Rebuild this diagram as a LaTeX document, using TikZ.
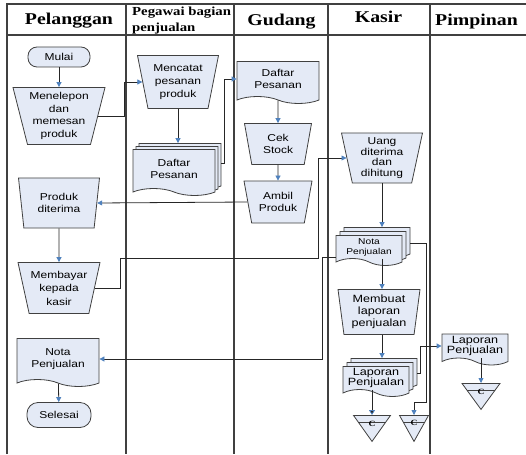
\documentclass[tikz,border=0pt]{standalone}
\usepackage{fontspec}
\setmainfont{Liberation Serif}[FakeStretch=1.2]
\newfontfamily\arial{Liberation Sans}[FakeStretch=1.2]
\usetikzlibrary{shapes.geometric,shapes.symbols,shadows,arrows.meta}
\definecolor{isian}{RGB}{228,234,246}
\definecolor{garis}{RGB}{64,64,64}
\definecolor{ujung}{RGB}{79,129,189}
\tikzset{
  lajur/.style={draw=garis,line width=1.1pt},
  judul/.style={anchor=base,inner sep=0pt,font=\fontsize{16.5}{18}\selectfont\bfseries},
  teks/.style={font=\arial\fontsize{10}{12.7}\selectfont,align=center},
  proses/.style={teks,trapezium,shape border rotate=180,trapezium stretches body,
    trapezium angle=73,draw=garis,line width=0.8pt,fill=isian,inner sep=0pt},
  dokumen/.style={teks,tape,tape bend top=none,tape bend bottom=out and in,tape bend height=7pt,
    draw=garis,line width=0.8pt,fill=isian,inner sep=0pt},
  dokganda/.style={dokumen,double copy shadow={shadow xshift=#1,shadow yshift=#1}},
  dokganda/.default=3pt,
  terminal/.style={teks,rectangle,rounded corners=9pt,draw=garis,line width=0.8pt,fill=isian,
    minimum width=62pt,minimum height=20pt},
  konektor/.style={isosceles triangle,shape border rotate=270,isosceles triangle stretches,
    draw=garis,line width=0.8pt,fill=isian,inner sep=0pt,anchor=north,
    font=\fontsize{8}{8}\selectfont\bfseries,
    path picture={\draw[garis,line width=0.8pt] ([yshift=-7pt]path picture bounding box.north west)
      -- ([yshift=-7pt]path picture bounding box.north east);}},
  panah/.style={draw=black!85,line width=0.8pt,-{Triangle[color=ujung,length=5pt,width=5pt]}},
  panahgelap/.style={draw=black!85,line width=0.8pt,-{Triangle[color=ujung,fill=black!85,length=5pt,width=6pt]}}
}
\begin{document}
\begin{tikzpicture}[x=1pt,y=-1pt]
\useasboundingbox (0,0) rectangle (526,454);
% lajur
\draw[lajur] (7,454) -- (7,4) -- (526,4);
\draw[lajur] (7,35) -- (526,35);
\foreach \x in {126,234,328,430} \draw[lajur] (\x,4) -- (\x,454);
\node (HPEL) at (69,25) [judul] {Pelanggan};
\node (HPEG) at (132,32) [anchor=base west,inner sep=0pt,align=left,font=\fontsize{12.3}{16.5}\selectfont\bfseries] {Pegawai bagian\\penjualan};
\node (HGUD) at (281.5,26) [judul] {Gudang};
\node (HKAS) at (378.5,23) [judul] {Kasir};
\node (HPIM) at (476.5,26) [judul] {Pimpinan};
% pelanggan
\node (MUL) at (59,57) [terminal] {Mulai};
\node (TLP) at (59,116) [proses,minimum width=92pt,minimum height=57pt] {Menelepon\\dan\\memesan\\produk};
\node (TRM) at (59,203) [proses,trapezium angle=75,minimum width=81pt,minimum height=50pt] {Produk\\diterima};
\node (BYR) at (59,288) [proses,trapezium angle=72,minimum width=82pt,minimum height=51pt,font=\arial\fontsize{10}{13.5}\selectfont] {Membayar\\kepada\\kasir};
\node (NTP) at (58,359) [dokumen,minimum width=82pt,minimum height=48pt] {Nota\\Penjualan};
\node (SEL) at (59,415) [terminal,minimum width=64pt,minimum height=25pt,rounded corners=11pt] {Selesai};
% pegawai bagian penjualan
\node (CTT) at (178,82) [proses,minimum width=81pt,minimum height=53pt] {Mencatat\\pesanan\\produk};
\node (DPA) at (174,169) [dokganda,minimum width=82pt,minimum height=46pt] {Daftar\\Pesanan};
% gudang
\node (DPB) at (278,79) [dokumen,minimum width=82pt,minimum height=42pt] {Daftar\\Pesanan};
\node (CEK) at (278,144) [proses,trapezium angle=70,minimum width=67pt,minimum height=41pt] {Cek\\Stock};
\node (AMB) at (278,202) [proses,trapezium angle=69,minimum width=68pt,minimum height=42pt] {Ambil\\Produk};
% kasir
\node (UNG) at (382,158) [proses,trapezium angle=75,minimum width=81pt,minimum height=50pt,font=\arial\fontsize{10}{10.5}\selectfont] {Uang\\diterima\\dan\\dihitung};
\node (NTK) at (369,247) [dokganda=4pt,minimum width=66pt,minimum height=30pt,font=\arial\fontsize{8.5}{10}\selectfont] {Nota\\Penjualan};
\node (LAP) at (379,312) [proses,trapezium angle=80,minimum width=82pt,minimum height=45pt,font=\arial\fontsize{10.5}{12}\selectfont] {Membuat\\laporan\\penjualan};
\node (LPK) at (376,378) [dokganda=4pt,minimum width=66pt,minimum height=30pt,font=\arial\fontsize{10.5}{9.5}\selectfont] {Laporan\\Penjualan};
\node (KA) at (372,415) [konektor,minimum width=37pt,minimum height=26pt] {C};
\node (KB) at (414,415) [konektor,minimum width=29pt,minimum height=26pt] {C};
% pimpinan
\node (LPP) at (475,346) [dokumen,minimum width=66pt,minimum height=31pt,font=\arial\fontsize{10.5}{9.5}\selectfont] {Laporan\\Penjualan};
\node (KC) at (481,383) [konektor,minimum width=38pt,minimum height=26pt] {C};
% alur
\draw[panah] (MUL) -- (TLP);
\draw[panah] (TLP.east) -- ++(26,0) |- (CTT.west);
\draw[panah,shorten >=6pt] (CTT.south) -- (CTT.south |- DPA.north);
\draw[panah] ([xshift=6pt,yshift=6pt]DPA.east) -- ++(3,0) |- (DPB.west);
\draw[panah] (DPB) -- (CEK);
\draw[panah] (CEK) -- (AMB);
\draw[panah] (AMB.west) -- (TRM.east);
\draw[panah] (TRM) -- (BYR);
\draw[panah] (BYR.east) -- ++(26,0) -- ++(0,-30) -- ++(198,0) |- (UNG.west);
\draw[panah,shorten >=8pt] (UNG.south) -- (UNG.south |- NTK.north);
\draw[panah] ([yshift=-10pt]NTK.west) -- ++(-13,0) |- (NTP.east);
\draw[panah] (UNG.south |- NTK.south) -- (UNG.south |- LAP.north);
\draw[panah,shorten >=8pt] (UNG.south |- LAP.south) -- (UNG.south |- LPK.north);
\draw[panah] ([xshift=8pt,yshift=4pt]NTK.east) -- ++(16,0) |- ([yshift=13pt]KB.north) -- (KB.north);
\draw[panah] ([xshift=8pt,yshift=5pt]LPK.east) -- ++(3,0) |- (LPP.west);
\draw[panahgelap] (KA.north |- LPK.south) -- (KA.north);
\draw[panah] (KC.north |- LPP.south) -- (KC.north);
\draw[panah] (NTP) -- (SEL);
\end{tikzpicture}
\end{document}
